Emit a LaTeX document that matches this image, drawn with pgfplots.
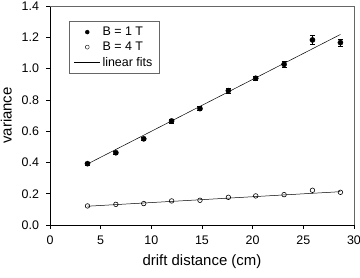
\documentclass[border=0pt]{standalone}
\usepackage{fontspec}
\setmainfont{Liberation Sans}
\usepackage{pgfplots}
\pgfplotsset{compat=1.18}
\newcommand{\lf}{\fontsize{12.5}{14}\selectfont}
\pgfplotsset{
  legmark/.style={legend image code/.code={\draw[##1, mark repeat=2, mark phase=2] plot coordinates {(0bp,0) (13bp,0) (26bp,0)};}},
  legline/.style={legend image code/.code={\draw[##1] (0bp,0) -- (26bp,0);}},
  every tick label/.append style={font=\fontsize{12.5}{14}\selectfont},
}
\begin{document}
\begin{tikzpicture}
\begin{axis}[
  scale only axis,
  width=304bp, height=219bp,
  xmin=0, xmax=30, ymin=0, ymax=1.4,
  axis lines*=left,
  axis line style={black, line width=0.6pt},
  xtick={0,5,...,30},
  ytick={0,0.2,...,1.4},
  tick align=outside,
  major tick length=3.5bp,
  tick style={black, line width=0.6pt},
  /pgf/number format/assume math mode=true,
  yticklabel style={/pgf/number format/fixed, /pgf/number format/fixed zerofill, /pgf/number format/precision=1},
  xticklabel shift=4bp,
  yticklabel shift=4bp,
  xlabel={drift distance (cm)},
  ylabel={variance},
  label style={font=\fontsize{15}{17}\selectfont},
  xlabel style={yshift=-3bp},
  ylabel style={yshift=3bp},
  legend style={at={(rel axis cs:0.062,0.932)}, anchor=north west, draw=black!60,
    row sep=1pt, inner xsep=5pt, inner ysep=4pt, font=\lf,
    /tikz/every even column/.append style={column sep=9pt}},
  legend cell align=left,
  clip=false,
]
\draw[black!60, line width=0.8pt] (rel axis cs:0,1) -- (rel axis cs:1,1) -- (rel axis cs:1,0);
% fits
\addplot[black, line width=0.5pt, forget plot] coordinates {(3.7,0.390) (28.66,1.218)};
\addplot[black, line width=0.5pt, forget plot] coordinates {(3.7,0.120) (28.66,0.213)};
% B = 1 T
\addplot[only marks, mark=*, mark size=2.6pt, black, forget plot,
  error bars/.cd, y dir=both, y explicit, error mark options={rotate=90, mark size=2.5pt, line width=0.6pt},
  error bar style={line width=0.6pt}]
  coordinates {
  (3.7,0.392) +- (0,0.008)
  (6.5,0.462) +- (0,0.010)
  (9.25,0.551) +- (0,0.012)
  (12.0,0.665) +- (0,0.012)
  (14.8,0.744) +- (0,0.012)
  (17.6,0.859) +- (0,0.015)
  (20.3,0.938) +- (0,0.015)
  (23.1,1.027) +- (0,0.018)
  (25.9,1.183) +- (0,0.027)
  (28.66,1.166) +- (0,0.022)
  };
% B = 4 T
\addplot[only marks, mark=o, mark size=2.3pt, black, mark options={fill=white, line width=0.6pt}, forget plot]
  coordinates {
  (3.7,0.122) (6.5,0.132) (9.25,0.137) (12.0,0.154) (14.8,0.158)
  (17.6,0.177) (20.3,0.186) (23.1,0.194) (25.9,0.222) (28.66,0.209)
  };
\addlegendimage{only marks, mark=*, mark size=2pt, black, legmark}
\addlegendentry{\lf B = 1 T}
\addlegendimage{only marks, mark=o, mark size=2pt, black, legmark}
\addlegendentry{\lf B = 4 T}
\addlegendimage{black, line width=0.5pt, legline}
\addlegendentry{\lf linear fits}
\end{axis}
\pgfresetboundingbox
\path ([xshift=-50bp,yshift=-53bp]current axis.south west) rectangle ([xshift=6bp,yshift=6bp]current axis.north east);
\end{tikzpicture}
\end{document}
